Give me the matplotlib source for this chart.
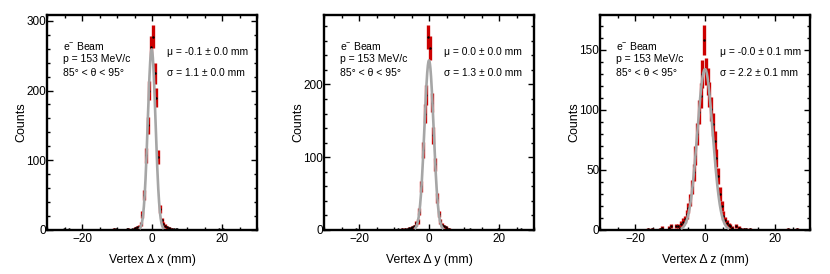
import numpy as np
import matplotlib
matplotlib.use("Agg")
import matplotlib.pyplot as plt
from matplotlib.ticker import MultipleLocator

plt.rcParams['font.family'] = ['Liberation Sans', 'DejaVu Sans']
plt.rcParams['mathtext.fontset'] = 'custom'
plt.rcParams['mathtext.rm'] = 'Liberation Sans'

# ---- data: histogram bin centers (mm) and counts (nonzero bins only) ----
x_centers = [-25.25, -23.75, -10.75, -10.25, -7.25, -6.75, -5.75, -5.25, -4.75, -4.25,
             -3.75, -3.25, -2.75, -2.25, -1.75, -1.25, -0.75, -0.25, 0.25, 0.75,
             1.25, 1.75, 2.25, 2.75, 3.25, 3.75, 4.25, 4.75, 5.25, 5.75,
             6.25, 6.75, 7.25, 19.25, 20.25]
x_counts = [1, 1, 2, 1, 1, 2, 1, 2, 3, 4,
            5, 8, 22, 50, 107, 150, 200, 262, 277, 225,
            190, 105, 30, 14, 8, 6, 4, 3, 2, 2,
            1, 1, 1, 1, 1]

y_centers = [-20.75, -8.75, -7.75, -6.75, -6.25, -5.75, -5.25, -4.75, -4.25, -3.75,
             -3.25, -2.75, -2.25, -1.75, -1.25, -0.75, -0.25, 0.25, 0.75, 1.25,
             1.75, 2.25, 2.75, 3.25, 3.75, 4.25, 4.75, 5.25, 5.75, 11.75,
             19.75, 26.25]
y_counts = [1, 1, 2, 2, 1, 3, 3, 4, 5, 9,
            12, 25, 60, 110, 160, 185, 265, 250, 175, 130,
            90, 44, 22, 12, 7, 5, 4, 2, 2, 1,
            1, 1]

z_centers = [-16.25, -15.25, -12.75, -12.25, -10.25, -9.75, -8.25, -7.75, -7.25, -6.75,
             -6.25, -5.75, -5.25, -4.75, -4.25, -3.75, -3.25, -2.75, -2.25, -1.75,
             -1.25, -0.75, -0.25, 0.25, 0.75, 1.25, 1.75, 2.25, 2.75, 3.25,
             3.75, 4.25, 4.75, 5.25, 5.75, 6.25, 6.75, 7.25, 7.75, 8.75,
             9.75, 10.25, 11.25, 11.75, 12.75, 23.75, 26.25]
z_counts = [1, 1, 1, 2, 2, 3, 3, 3, 2, 5,
            7, 9, 13, 18, 25, 36, 48, 62, 80, 98,
            112, 130, 158, 132, 124, 113, 101, 88, 74, 60,
            45, 30, 20, 12, 8, 6, 4, 3, 2, 3,
            2, 1, 1, 1, 1, 1, 1]

# fit results (amplitude, mean, sigma)
fit_amp = [259, 233, 134]
fit_mu = [-0.1, 0.0, -0.0]
fit_sigma = [1.1, 1.3, 2.2]
mu_labels = ["\u03bc = -0.1 \u00b1 0.0 mm", "\u03bc = 0.0 \u00b1 0.0 mm", "\u03bc = -0.0 \u00b1 0.1 mm"]
sigma_labels = ["\u03c3 = 1.1 \u00b1 0.0 mm", "\u03c3 = 1.3 \u00b1 0.0 mm", "\u03c3 = 2.2 \u00b1 0.1 mm"]
xlabels = ["Vertex \u0394 x (mm)", "Vertex \u0394 y (mm)", "Vertex \u0394 z (mm)"]
yticks_major = [100, 100, 50]
yticks_minor = [20, 20, 10]
info_lines = ["e$^{-}$ Beam", "p = 153 MeV/c", "85\u00b0 < \u03b8 < 95\u00b0"]

centers_all = [x_centers, y_centers, z_centers]
counts_all = [x_counts, y_counts, z_counts]

W, H = 830, 274
fig = plt.figure(figsize=(W / 100, H / 100), dpi=100)
lefts = [47, 324, 600]
for i in range(3):
    l = lefts[i]
    ax = fig.add_axes([l / W, (H - 230) / H, 210 / W, 215 / H])
    c = np.array(centers_all[i], dtype=float)
    n = np.array(counts_all[i], dtype=float)
    err = np.sqrt(n)
    ax.errorbar(c, n, yerr=err, fmt='.', color='black', ms=1.5,
                ecolor='#cc0000', elinewidth=2.4, capsize=0, zorder=2)
    xs = np.linspace(fit_mu[i] - 3 * fit_sigma[i], fit_mu[i] + 3 * fit_sigma[i], 300)
    ax.plot(xs, fit_amp[i] * np.exp(-0.5 * ((xs - fit_mu[i]) / fit_sigma[i]) ** 2),
            color='#a6a6a6', lw=1.9, zorder=3)
    ax.set_xlim(-30, 30)
    ax.set_ylim(0, 1.05 * np.max(n + err))
    ax.xaxis.set_major_locator(MultipleLocator(20))
    ax.xaxis.set_minor_locator(MultipleLocator(5))
    ax.yaxis.set_major_locator(MultipleLocator(yticks_major[i]))
    ax.yaxis.set_minor_locator(MultipleLocator(yticks_minor[i]))
    ax.tick_params(which='both', direction='in', top=True, right=True,
                   labelsize=8.5, width=1.0)
    ax.tick_params(axis='x', which='both', pad=2)
    ax.tick_params(axis='y', which='both', pad=0.5)
    ax.tick_params(which='major', length=4)
    ax.tick_params(which='minor', length=2.5)
    for s in ax.spines.values():
        s.set_linewidth(1.7)
    ax.set_xlabel(xlabels[i], fontsize=8.8, labelpad=7)
    ax.set_ylabel("Counts", fontsize=9, labelpad=-1)
    for k, line in enumerate(info_lines):
        ax.text(0.075, 0.856 - k * 0.062, line, transform=ax.transAxes,
                fontsize=7.5, va='center', ha='left')
    ax.text(0.57, 0.828, mu_labels[i], transform=ax.transAxes,
            fontsize=7.4, va='center', ha='left')
    ax.text(0.57, 0.73, sigma_labels[i], transform=ax.transAxes,
            fontsize=7.4, va='center', ha='left')

fig.savefig("out.png", dpi=100)
